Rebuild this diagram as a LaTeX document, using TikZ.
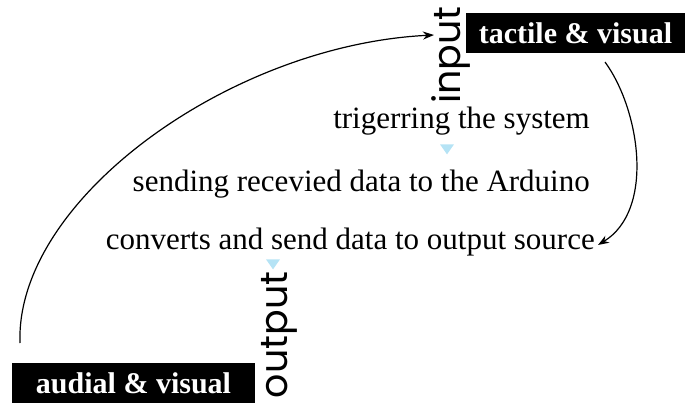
\documentclass[tikz,border=0pt]{standalone}
\usepackage{fontspec}
\setmainfont{Liberation Serif}
\newfontfamily\labfont{Poppins}
\usetikzlibrary{arrows.meta,shapes.geometric}
\definecolor{tipblue}{HTML}{B5E3F5}
\tikzset{
  blackbox/.style={fill=black, text=white, font=\bfseries\fontsize{30}{30}\selectfont,
    inner sep=0pt, minimum height=40, anchor=center},
  steptext/.style={font=\fontsize{31}{31}\selectfont, inner sep=0pt, anchor=base east},
  sidelabel/.style={font=\labfont\fontsize{38}{38}\selectfont, rotate=90, inner sep=0pt},
  marker/.style={isosceles triangle, shape border rotate=-90, isosceles triangle apex angle=70,
    fill=tipblue, inner sep=0pt, minimum height=10, minimum width=14},
  flow/.style={line width=1.2pt, -{Stealth[length=11pt,width=8pt]}}
}
\begin{document}
\begin{tikzpicture}[x=1pt,y=-1pt]
  \useasboundingbox (0,0) rectangle (685,403);

  % source and sink boxes
  \node[blackbox, minimum width=219] (tactile) at (575.5,33.5) {tactile \& visual};
  \node[blackbox, minimum width=243] (audial) at (133.5,383) {audial \& visual};

  % rotated side labels
  \node[sidelabel] (input) at (451,55) {input};
  \node[sidelabel] (output) at (279,335) {output};

  % the three processing steps
  \node[steptext] (trig) at (590,129) {trigerring the system};
  \node[steptext] (send) at (590,192) {sending recevied data to the Arduino};
  \node[steptext] (conv) at (595,250) {converts and send data to output source};

  % small markers between steps
  \node[marker] (m1) at (447,148) {};
  \node[marker] (m2) at (273,263) {};

  % connector ends
  \coordinate (tStart) at (605,62);
  \coordinate (cEnd) at (598,245);
  \coordinate (aStart) at (20,343);
  \coordinate (iEnd) at (434,35);

  \draw[flow] (tStart) .. controls (640,110) and (655,210) .. (cEnd);
  \draw[flow] (aStart) .. controls (15,200) and (230,45) .. (iEnd);
\end{tikzpicture}
\end{document}
